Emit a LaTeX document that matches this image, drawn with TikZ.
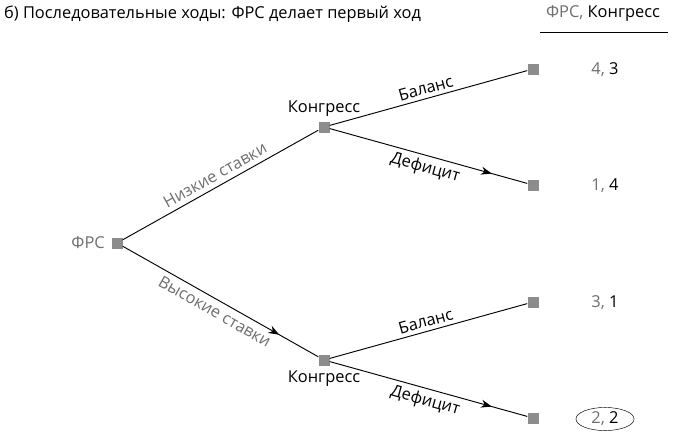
\documentclass[tikz,border=0pt]{standalone}
\usepackage{fontspec}
\setmainfont{Open Sans}
\usetikzlibrary{positioning,shapes.geometric,decorations.markings,arrows.meta}
\definecolor{fedgray}{RGB}{110,110,110}
\definecolor{boxgray}{RGB}{140,140,140}
\tikzset{
  decision/.style={fill=boxgray,minimum size=0.33cm,inner sep=0pt},
  fed/.style={text=fedgray},
  move/.style={thick},
  midarrow/.style={postaction={decorate,decoration={markings,
    mark=at position #1 with {\arrow{Stealth[length=3.2mm,width=2.4mm]}}}}}
}
\begin{document}
\begin{tikzpicture}[x=0.03cm,y=-0.03cm,font=\fontsize{14}{16}\selectfont]
  \useasboundingbox (0,0) rectangle (674,442);
  \node[anchor=west] (title) at (0,14) {б) Последовательные ходы: ФРС делает первый ход};
  \node (head) at (603,14) {\textcolor{fedgray}{ФРС,} Конгресс};
  \coordinate (hl) at (540,32);
  \coordinate (hr) at (668,32);
  \draw (hl) -- (hr);
  % nodes of the tree
  \node[decision] (frs) at (117,243) {};
  \node[decision] (cup) at (324,127) {};
  \node[decision] (cdn) at (324,360) {};
  \node[decision] (t1) at (533,69) {};
  \node[decision] (t2) at (533,185) {};
  \node[decision] (t3) at (533,302) {};
  \node[decision] (t4) at (533,418) {};
  \node[fed,left=2pt of frs] (frslab) {ФРС};
  \node[above=1pt of cup] (cuplab) {Конгресс};
  \node[below=1pt of cdn] (cdnlab) {Конгресс};
  % payoffs
  \node (p1) at (605,70) {\textcolor{fedgray}{4,} 3};
  \node (p2) at (605,186) {\textcolor{fedgray}{1,} 4};
  \node (p3) at (605,303) {\textcolor{fedgray}{3,} 1};
  \node[draw,ellipse,inner xsep=6pt,inner ysep=1pt] (p4) at (605,419) {\textcolor{fedgray}{2,} 2};
  % moves
  \draw[move] (frs) -- node[fed,sloped,above=1pt] {Низкие ставки} (cup);
  \draw[move,midarrow=0.8] (frs) -- node[fed,sloped,below=1pt] {Высокие ставки} (cdn);
  \draw[move] (cup) -- node[sloped,above] {Баланс} (t1);
  \draw[move,midarrow=0.82] (cup) -- node[sloped,below] {Дефицит} (t2);
  \draw[move] (cdn) -- node[sloped,above] {Баланс} (t3);
  \draw[move,midarrow=0.82] (cdn) -- node[sloped,below] {Дефицит} (t4);
\end{tikzpicture}
\end{document}
